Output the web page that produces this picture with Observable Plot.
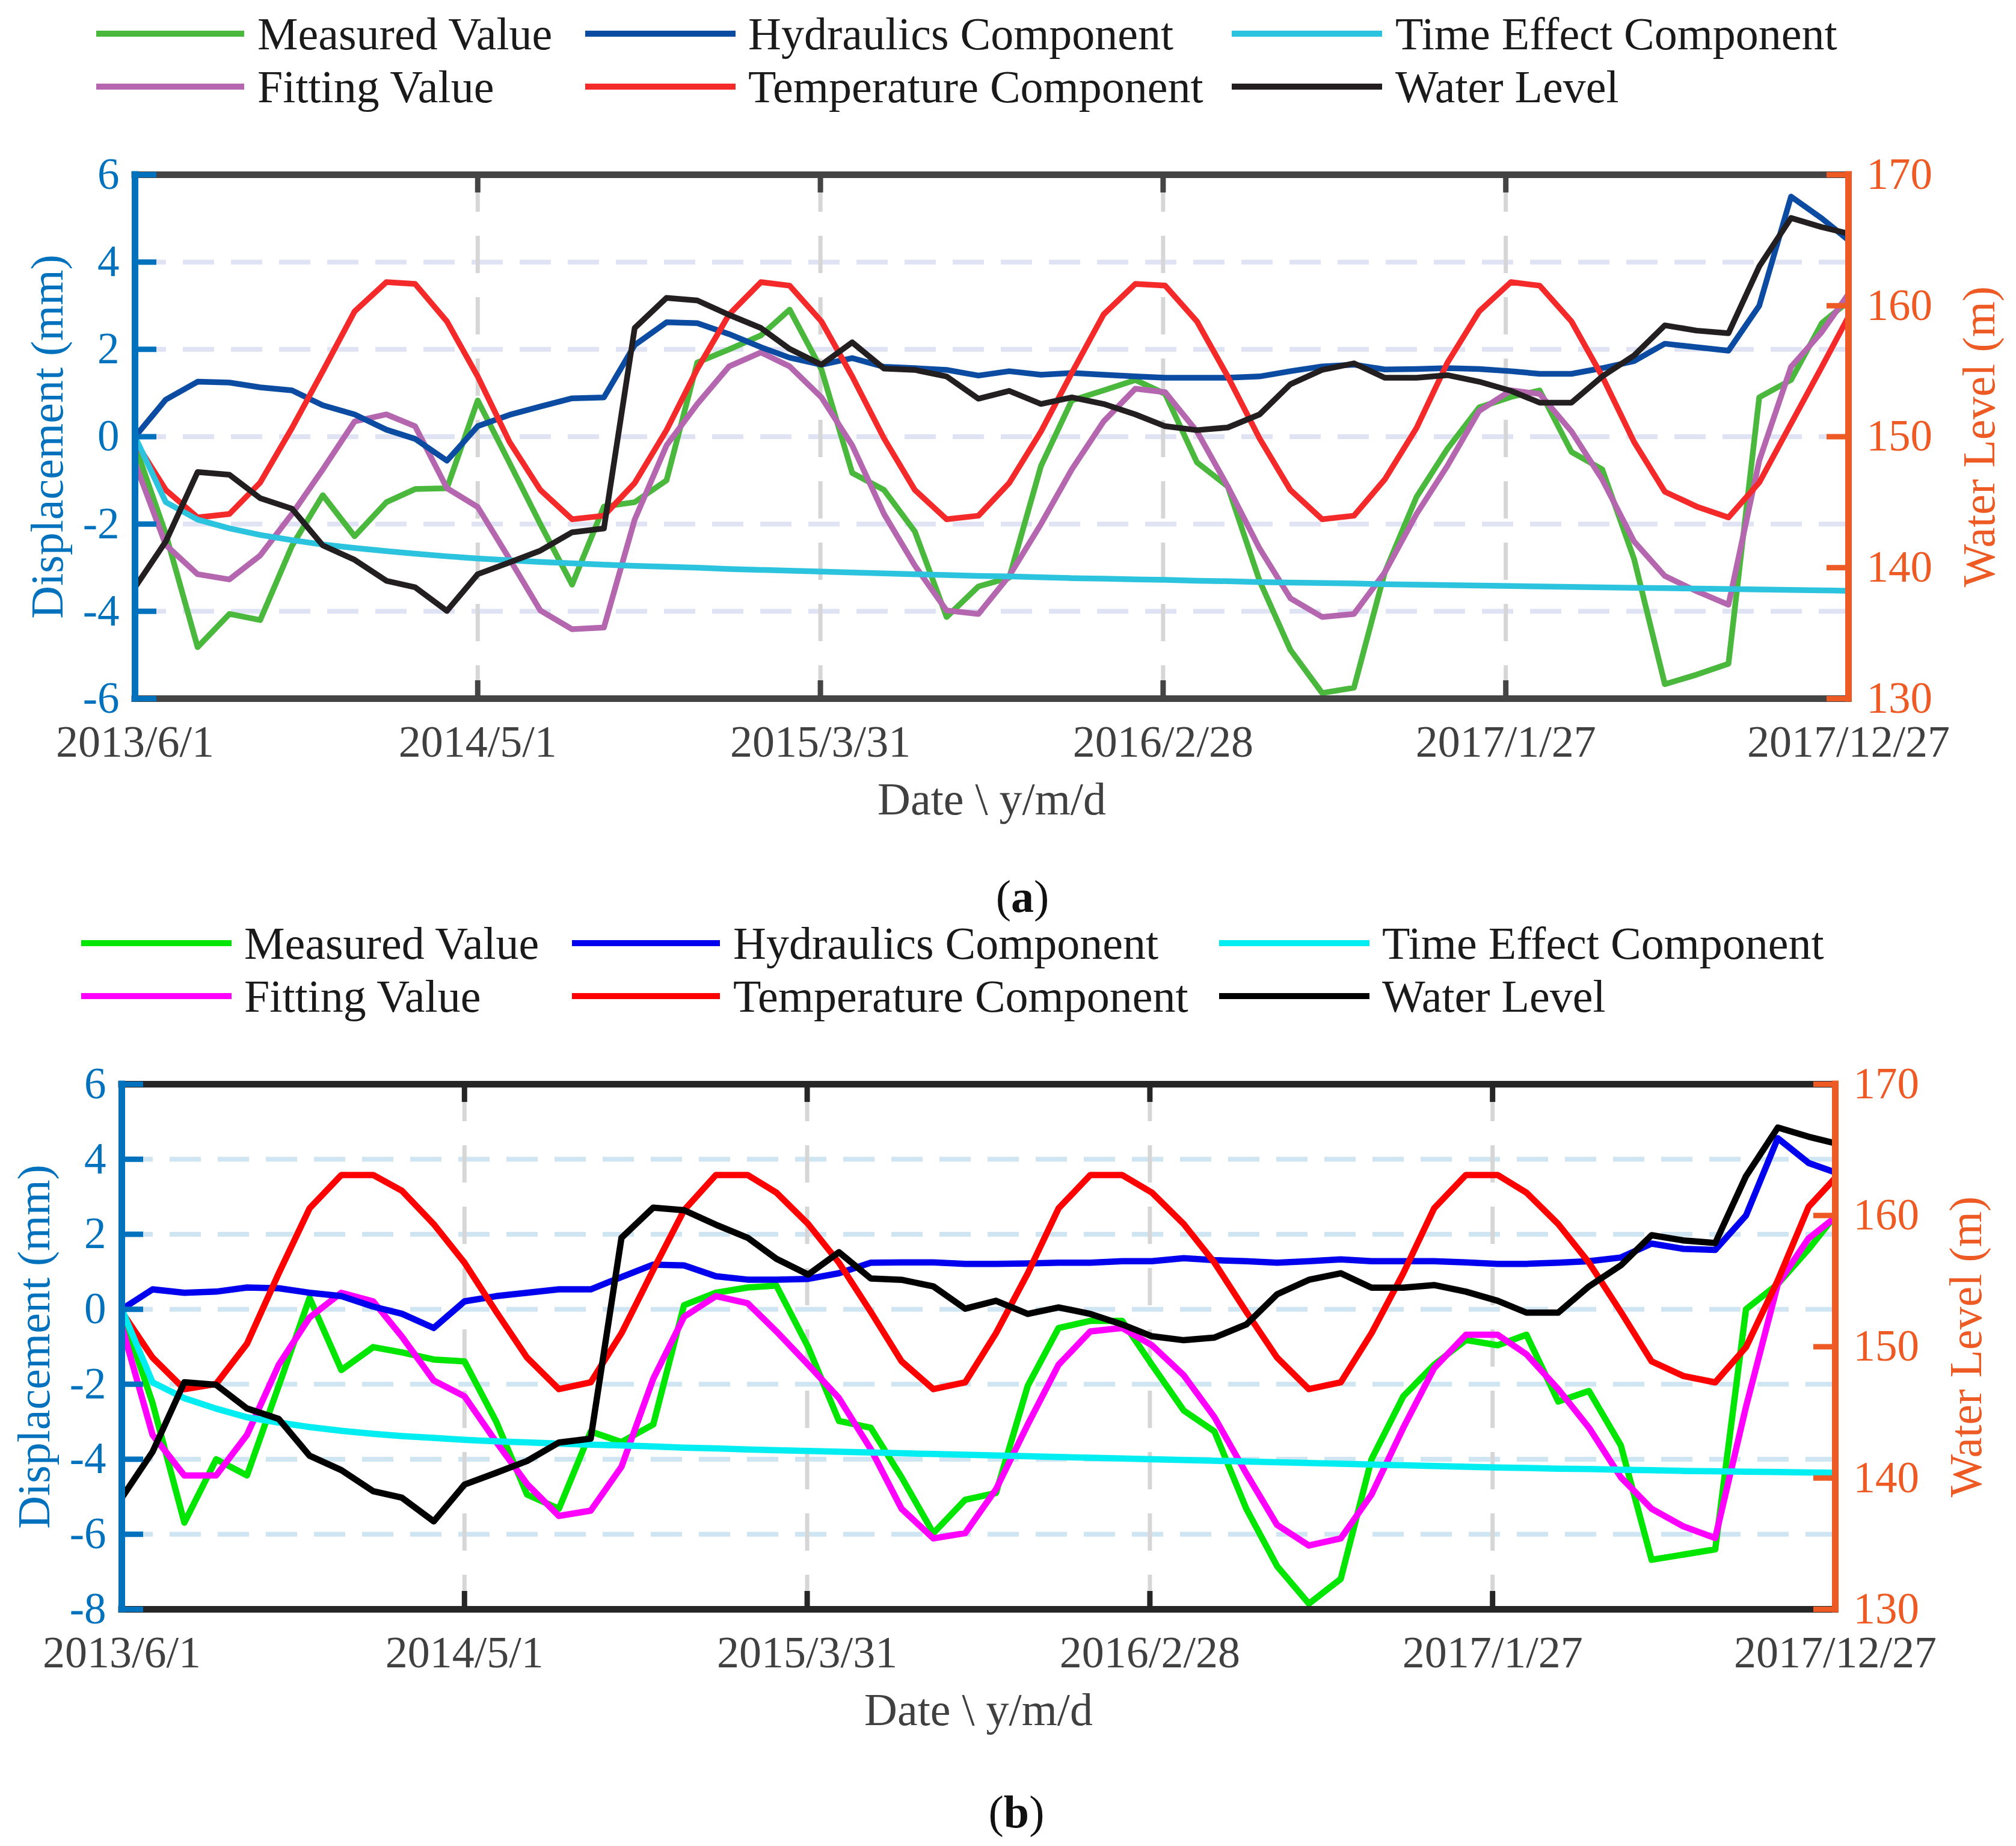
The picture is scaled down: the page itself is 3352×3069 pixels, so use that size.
<!DOCTYPE html>
<html>
<head>
<meta charset="utf-8">
<script src="https://cdn.jsdelivr.net/npm/d3@7"></script>
<script src="https://cdn.jsdelivr.net/npm/@observablehq/plot@0.6"></script>
<style>
  body { margin: 0; background: white; }
  #page { position: relative; width: 3352px; height: 3069px; background: white;
          font-family: "Liberation Serif", "Times New Roman", serif; }
  .chart { position: absolute; left: 0; }
  .sw { position: absolute; height: 10px; }
  .lt { position: absolute; font-size: 76px; line-height: 0.9; color: #1a1a1a; white-space: nowrap;
        transform: translateY(-50%); }
  .cap { position: absolute; font-size: 76px; line-height: 0.9; color: #111; transform: translate(-50%, -50%); }
</style>
</head>
<body>
<div id="page"></div>
<script>
// monthly readings, 2013/6 .. 2017/12 plus the last survey on 2017/12/27
const start = new Date(Date.UTC(2013, 5, 1))
const end = new Date(Date.UTC(2017, 11, 27))
const dates = d3.utcMonth.range(start, end).concat([end])

const xTicks = ["2013-06-01", "2014-05-01", "2015-03-31", "2016-02-28", "2017-01-27", "2017-12-27"].map(s => new Date(s))
const yTicksA = [-6, -4, -2, 0, 2, 4, 6]
const yTicksB = [-8, -6, -4, -2, 0, 2, 4, 6]
const wlTicks = [130, 140, 150, 160, 170]

// water level (m), right axis, same in both panels
const waterLevel = [138.5, 142, 147.3, 147.1, 145.3, 144.5, 141.7, 140.6, 139, 138.5, 136.7, 139.5,
  140.4, 141.3, 142.7, 143, 158.3, 160.6, 160.4, 159.3, 158.3, 156.7, 155.5, 157.2,
  155.2, 155.1, 154.6, 152.9, 153.5, 152.5, 153, 152.5, 151.7, 150.8, 150.5, 150.7,
  151.7, 154, 155.1, 155.6, 154.5, 154.5, 154.7, 154.2, 153.5, 152.6, 152.6, 154.6,
  156.2, 158.5, 158.1, 157.9, 163, 166.7, 166, 165.5]

// panel (a), displacement (mm)
const measuredA = [-0.2, -2.23, -4.82, -4.06, -4.2, -2.5, -1.34, -2.28, -1.5, -1.2, -1.18, 0.83,
  -0.6, -2.0, -3.39, -1.6, -1.5, -1.0, 1.7, 2.0, 2.32, 2.91, 1.54, -0.83,
  -1.22, -2.17, -4.13, -3.43, -3.23, -0.67, 0.83, 1.06, 1.3, 0.98, -0.59, -1.14,
  -3.3, -4.88, -5.87, -5.75, -3.11, -1.38, -0.28, 0.67, 0.91, 1.06, -0.35, -0.75,
  -2.8, -5.67, -5.45, -5.2, 0.9, 1.3, 2.6, 3.1]
const fittingA = [-0.6, -2.48, -3.15, -3.27, -2.72, -1.77, -0.75, 0.35, 0.51, 0.24, -1.18, -1.61,
  -2.8, -3.98, -4.41, -4.37, -1.9, -0.2, 0.75, 1.61, 1.93, 1.61, 0.9, -0.2,
  -1.77, -2.95, -3.98, -4.06, -3.19, -2.0, -0.75, 0.35, 1.1, 1.02, 0.12, -1.14,
  -2.56, -3.7, -4.13, -4.06, -3.11, -1.77, -0.67, 0.59, 1.06, 0.98, 0.12, -0.98,
  -2.4, -3.19, -3.54, -3.85, -0.55, 1.6, 2.4, 3.27]
const hydraulicsA = [0, 0.85, 1.26, 1.24, 1.13, 1.06, 0.72, 0.51, 0.16, -0.05, -0.55, 0.24,
  0.5, 0.69, 0.88, 0.9, 2.1, 2.62, 2.6, 2.35, 2.05, 1.81, 1.65, 1.8,
  1.6, 1.57, 1.53, 1.4, 1.5, 1.42, 1.46, 1.42, 1.38, 1.35, 1.35, 1.35,
  1.38, 1.5, 1.61, 1.65, 1.54, 1.55, 1.57, 1.55, 1.5, 1.44, 1.44, 1.57,
  1.73, 2.13, 2.05, 1.97, 3.0, 5.5, 5.0, 4.5]
const temperatureA = [-0.1, -1.22, -1.85, -1.77, -1.05, 0.2, 1.5, 2.87, 3.54, 3.5, 2.64, 1.38,
  -0.12, -1.22, -1.89, -1.81, -1.06, 0.15, 1.55, 2.8, 3.54, 3.46, 2.64, 1.38,
  -0.04, -1.22, -1.89, -1.81, -1.06, 0.12, 1.46, 2.8, 3.5, 3.46, 2.64, 1.38,
  -0.04, -1.22, -1.89, -1.81, -0.98, 0.2, 1.69, 2.87, 3.54, 3.46, 2.64, 1.38,
  -0.12, -1.26, -1.6, -1.85, -1.05, 0.3, 1.6, 2.75]
const timeEffectA = [0, -1.5, -1.9, -2.1, -2.25, -2.37, -2.47, -2.55, -2.62, -2.68, -2.74, -2.79,
  -2.83, -2.87, -2.9, -2.93, -2.96, -2.98, -3.0, -3.03, -3.05, -3.07, -3.09, -3.11,
  -3.13, -3.15, -3.17, -3.19, -3.2, -3.22, -3.24, -3.25, -3.27, -3.28, -3.3, -3.31,
  -3.33, -3.34, -3.35, -3.36, -3.38, -3.39, -3.4, -3.41, -3.42, -3.43, -3.44, -3.45,
  -3.46, -3.47, -3.48, -3.49, -3.5, -3.51, -3.52, -3.53]

// panel (b), displacement (mm)
const measuredB = [-0.07, -2.5, -5.69, -4.0, -4.43, -2.04, 0.3, -1.62, -1.01, -1.15, -1.34, -1.39,
  -3.0, -4.94, -5.32, -3.26, -3.54, -3.07, 0.11, 0.44, 0.58, 0.63, -1.01, -2.98,
  -3.16, -4.48, -5.97, -5.08, -4.9, -2.04, -0.5, -0.31, -0.31, -1.48, -2.7, -3.26,
  -5.32, -6.85, -7.85, -7.19, -4.0, -2.32, -1.48, -0.82, -0.96, -0.68, -2.46, -2.18,
  -3.63, -6.68, -6.54, -6.4, 0.0, 0.67, 1.6, 2.5]
const fittingB = [-0.45, -3.35, -4.43, -4.43, -3.35, -1.48, -0.22, 0.44, 0.21, -0.73, -1.9, -2.32,
  -3.54, -4.66, -5.51, -5.37, -4.2, -1.85, -0.2, 0.35, 0.16, -0.59, -1.48, -2.37,
  -3.73, -5.32, -6.11, -5.97, -4.8, -3.07, -1.48, -0.59, -0.5, -0.96, -1.76, -2.88,
  -4.38, -5.75, -6.3, -6.11, -4.94, -3.16, -1.57, -0.68, -0.68, -1.2, -2.13, -3.16,
  -4.48, -5.32, -5.79, -6.1, -2.6, 0.67, 1.89, 2.45]
const hydraulicsB = [0, 0.53, 0.44, 0.47, 0.58, 0.56, 0.44, 0.35, 0.07, -0.12, -0.5, 0.21,
  0.35, 0.44, 0.53, 0.53, 0.86, 1.19, 1.17, 0.88, 0.79, 0.79, 0.81, 0.96,
  1.24, 1.25, 1.25, 1.21, 1.21, 1.22, 1.24, 1.24, 1.28, 1.28, 1.36, 1.31,
  1.28, 1.24, 1.28, 1.33, 1.28, 1.28, 1.28, 1.25, 1.21, 1.21, 1.24, 1.28,
  1.38, 1.75, 1.61, 1.58, 2.5, 4.56, 3.9, 3.65]
const temperatureB = [-0.07, -1.29, -2.13, -1.99, -0.92, 0.96, 2.69, 3.58, 3.58, 3.16, 2.27, 1.24,
  -0.07, -1.29, -2.13, -1.95, -0.64, 1.05, 2.64, 3.58, 3.58, 3.11, 2.27, 1.24,
  -0.07, -1.39, -2.13, -1.95, -0.64, 0.96, 2.69, 3.58, 3.58, 3.11, 2.27, 1.24,
  -0.07, -1.29, -2.13, -1.95, -0.64, 0.96, 2.69, 3.58, 3.58, 3.11, 2.27, 1.24,
  -0.07, -1.39, -1.78, -1.95, -1.01, 0.77, 2.73, 3.5]
const timeEffectB = [0, -1.95, -2.37, -2.65, -2.88, -3.02, -3.14, -3.24, -3.32, -3.38, -3.43, -3.48,
  -3.52, -3.55, -3.58, -3.61, -3.63, -3.66, -3.69, -3.71, -3.74, -3.76, -3.78, -3.8,
  -3.82, -3.84, -3.86, -3.88, -3.9, -3.92, -3.94, -3.96, -3.98, -4.0, -4.02, -4.04,
  -4.06, -4.08, -4.1, -4.12, -4.14, -4.16, -4.18, -4.2, -4.22, -4.23, -4.25, -4.26,
  -4.28, -4.29, -4.31, -4.32, -4.33, -4.34, -4.35, -4.36]

const legendLabels = ["Measured Value", "Hydraulics Component", "Time Effect Component",
  "Fitting Value", "Temperature Component", "Water Level"]

const axisBlue = "#0072BD"
const axisOrange = "#EE5A24"
const fmtDate = d => `${d.getUTCFullYear()}/${d.getUTCMonth() + 1}/${d.getUTCDate()}`

const page = document.getElementById("page")

function panel(o) {
  const W = 3352
  const fw = W - o.ml - o.mr
  const fh = o.h - o.mt - o.mb
  const wl = d3.scaleLinear([130, 170], o.yDomain)  // water level -> left axis units
  const rows = vals => vals.map((v, i) => ({date: dates[i], v}))
  const line = (vals, color) => Plot.line(rows(vals), {x: "date", y: "v", stroke: color, strokeWidth: o.lw})

  const chart = Plot.plot({
    width: W, height: o.h,
    marginLeft: o.ml, marginRight: o.mr, marginTop: o.mt, marginBottom: o.mb,
    x: {type: "utc", domain: [start, end], axis: null},
    y: {domain: o.yDomain, axis: null},
    style: {fontFamily: "'Liberation Serif', 'Times New Roman', serif", fontSize: "74px", background: "white", overflow: "visible"},
    marks: [
      // dashed grid
      Plot.ruleY(o.yTicks.slice(1, -1), {stroke: o.grid, strokeWidth: 8, strokeDasharray: "52,28"}),
      Plot.ruleX(xTicks.slice(1, -1), {stroke: "#d6d6d6", strokeWidth: 7, strokeDasharray: "62,40"}),
      // series
      line(o.measured, o.c[0]),
      line(o.fitting, o.c[3]),
      line(o.hydraulics, o.c[1]),
      line(o.temperature, o.c[4]),
      line(o.timeEffect, o.c[2]),
      Plot.line(rows(waterLevel.map(wl)), {x: "date", y: "v", stroke: o.c[5], strokeWidth: o.lw}),
      // box
      Plot.ruleY([o.yDomain[0], o.yDomain[1]], {stroke: o.frame, strokeWidth: 11, strokeLinecap: "square"}),
      Plot.tickX(xTicks, {x: d => d, stroke: o.frame, strokeWidth: 9, insetBottom: fh - 30}),
      Plot.tickX(xTicks, {x: d => d, stroke: o.frame, strokeWidth: 9, insetTop: fh - 30}),
      Plot.tickY(o.yTicks, {y: d => d, stroke: axisBlue, strokeWidth: 9, insetRight: fw - 36}),
      Plot.tickY(wlTicks, {y: d => wl(d), stroke: axisOrange, strokeWidth: 9, insetLeft: fw - 36}),
      Plot.ruleX([start], {stroke: axisBlue, strokeWidth: 11, strokeLinecap: "square"}),
      Plot.ruleX([end], {stroke: axisOrange, strokeWidth: 11, strokeLinecap: "square"}),
      // tick labels
      Plot.text(o.yTicks, {y: d => d, text: d => String(d), frameAnchor: "left", textAnchor: "end", lineAnchor: "middle", dx: -26, fill: axisBlue, fontSize: 73}),
      Plot.text(wlTicks, {y: d => wl(d), text: d => String(d), frameAnchor: "right", textAnchor: "start", lineAnchor: "middle", dx: 30, fill: axisOrange, fontSize: 73}),
      Plot.text(xTicks, {x: d => d, text: fmtDate, frameAnchor: "bottom", lineAnchor: "middle", dy: 73, fill: "#404040", fontSize: 74}),
      // axis titles
      Plot.text(["Date \\ y/m/d"], {frameAnchor: "bottom", lineAnchor: "middle", dy: 168, fill: "#404040", fontSize: 76}),
      Plot.text(["Displacement (mm)"], {frameAnchor: "left", textAnchor: "middle", lineAnchor: "middle", dx: -145, rotate: -90, fill: axisBlue, fontSize: 76}),
      Plot.text(["Water Level (m)"], {frameAnchor: "right", textAnchor: "middle", lineAnchor: "middle", dx: 218, rotate: -90, fill: axisOrange, fontSize: 76})
    ]
  })
  chart.classList.add("chart")
  chart.style.top = o.top + "px"
  page.appendChild(chart)

  // legend, two rows of three
  o.legend.forEach((item, i) => {
    const col = o.cols[i % 3]
    const y = o.rows[Math.floor(i / 3)]
    const sw = document.createElement("div")
    sw.className = "sw"
    Object.assign(sw.style, {left: col[0] + "px", width: (col[1] - col[0]) + "px", top: (y - 5) + "px", background: o.c[i]})
    page.appendChild(sw)
    const t = document.createElement("div")
    t.className = "lt"
    Object.assign(t.style, {left: col[2] + "px", top: y + "px"})
    t.textContent = item
    page.appendChild(t)
  })

  const cap = document.createElement("div")
  cap.className = "cap"
  Object.assign(cap.style, {left: o.cap[0] + "px", top: o.cap[1] + "px"})
  cap.innerHTML = `(<b>${o.capText}</b>)`
  page.appendChild(cap)
}

panel({
  top: 200, h: 1250, ml: 224, mr: 279, mt: 90, mb: 289, lw: 9.5,
  yDomain: [-6, 6], yTicks: yTicksA,
  measured: measuredA, fitting: fittingA, hydraulics: hydraulicsA, temperature: temperatureA, timeEffect: timeEffectA,
  // order follows legendLabels
  c: ["#4ab83c", "#0b4ca2", "#2cc3de", "#b466ae", "#f42a2a", "#231f20"],
  grid: "#dfe3f3", frame: "#444444",
  legend: legendLabels,
  cols: [[160, 406, 428], [973, 1223, 1244], [2048, 2298, 2320]],
  rows: [56, 144],
  cap: [1700, 1490], capText: "a"
})

panel({
  top: 1700, h: 1250, ml: 202, mr: 301, mt: 102, mb: 275, lw: 10.5,
  yDomain: [-8, 6], yTicks: yTicksB,
  measured: measuredB, fitting: fittingB, hydraulics: hydraulicsB, temperature: temperatureB, timeEffect: timeEffectB,
  c: ["#00e600", "#0000ee", "#00eef2", "#ff00ff", "#ff0000", "#000000"],
  grid: "#cfe6f2", frame: "#262626",
  legend: legendLabels,
  cols: [[135, 385, 406], [951, 1197, 1219], [2027, 2277, 2298]],
  rows: [1568, 1656],
  cap: [1690, 3012], capText: "b"
})
</script>
</body>
</html>
